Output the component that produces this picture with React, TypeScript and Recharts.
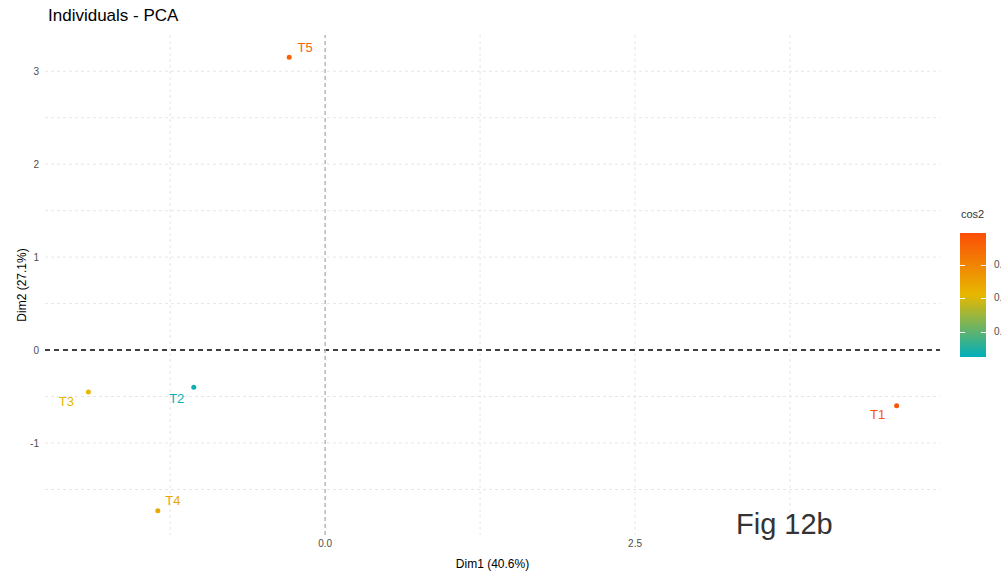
import React from 'react';
import { ScatterChart, Scatter, XAxis, YAxis, CartesianGrid, ReferenceLine } from 'recharts';

const names = ['T1', 'T2', 'T3', 'T4', 'T5'];
const dim1 = [4.61, -1.06, -1.91, -1.35, -0.29];
const dim2 = [-0.6, -0.4, -0.45, -1.73, 3.15];
const cos2 = [0.97, 0.27, 0.62, 0.68, 0.92];

const xTicks = [0, 2.5];
const yTicks = [-1, 0, 1, 2, 3];
const legendTicks = [0.8, 0.6, 0.4];

const COS2_MIN = 0.25;
const COS2_MAX = 0.99;

// label nudges in px (mimics ggrepel placement)
const nudge: Record<string, [number, number]> = {
  T1: [-19, 9],
  T2: [-17, 11],
  T3: [-22, 10],
  T4: [15, -10],
  T5: [16, -10],
};

const data = names.map((n, i) => ({ name: n, x: dim1[i], y: dim2[i], cos2: cos2[i] }));

function hexToRgb(h: string) {
  const v = parseInt(h.slice(1), 16);
  return [(v >> 16) & 255, (v >> 8) & 255, v & 255];
}
function mix(a: string, b: string, t: number) {
  const A = hexToRgb(a);
  const B = hexToRgb(b);
  const c = A.map((v, i) => Math.round(v + (B[i] - v) * t));
  return `rgb(${c[0]},${c[1]},${c[2]})`;
}
function cosColor(v: number) {
  const t = Math.min(1, Math.max(0, (v - COS2_MIN) / (COS2_MAX - COS2_MIN)));
  if (t < 0.5) return mix('#00AFBB', '#E7B800', t / 0.5);
  return mix('#E7B800', '#FC4E07', (t - 0.5) / 0.5);
}

const PointShape = (props: any) => {
  const { cx, cy, payload } = props;
  const col = cosColor(payload.cos2);
  const [dx, dy] = nudge[payload.name] || [12, -8];
  return (
    <g>
      <circle cx={cx} cy={cy} r={2.5} fill={col} />
      <text x={cx + dx} y={cy + dy} fill={col} fontSize={13} textAnchor="middle" dominantBaseline="central">
        {payload.name}
      </text>
    </g>
  );
};

const font = '"Liberation Sans", Arial, sans-serif';

export default function App() {
  const barTop = 233;
  const barBottom = 357;
  const tickY = (v: number) => barBottom - ((v - COS2_MIN) / (COS2_MAX - COS2_MIN)) * (barBottom - barTop);
  return (
    <div style={{ position: 'fixed', left: 0, top: 0, width: 1001, height: 573, background: '#fff', fontFamily: font, overflow: 'hidden' }}>
      <div style={{ position: 'absolute', left: 48, top: 6, fontSize: 17, color: '#000' }}>Individuals - PCA</div>
      <ScatterChart width={1001} height={573} margin={{ top: 35, right: 61, bottom: 0, left: 0 }}>
        <CartesianGrid
          stroke="#e6e6e6"
          strokeDasharray="3 3"
          horizontalValues={[-1.5, -1, -0.5, 0.5, 1, 1.5, 2, 2.5, 3]}
          verticalValues={[-1.25, 1.25, 2.5, 3.75]}
        />
        <XAxis
          type="number"
          dataKey="x"
          domain={[-2.26, 4.96]}
          allowDataOverflow
          ticks={xTicks}
          tickFormatter={(v: number) => v.toFixed(1)}
          axisLine={false}
          tickLine={false}
          tickSize={0}
          tickMargin={5}
          height={38}
          tick={{ fontSize: 10, fill: '#4d4d4d', fontFamily: font }}
          label={{ value: 'Dim1 (40.6%)', position: 'insideBottom', offset: 5, fontSize: 12, fill: '#000', fontFamily: font }}
        />
        <YAxis
          type="number"
          dataKey="y"
          domain={[-1.99, 3.39]}
          allowDataOverflow
          ticks={yTicks}
          axisLine={false}
          tickLine={false}
          tickSize={0}
          tickMargin={6}
          width={45}
          tick={{ fontSize: 10, fill: '#4d4d4d', fontFamily: font }}
          label={{ value: 'Dim2 (27.1%)', angle: -90, position: 'insideLeft', offset: 22, fontSize: 12, fill: '#000', fontFamily: font, style: { textAnchor: 'middle' } }}
        />
        <ReferenceLine y={0} stroke="#000" strokeDasharray="5 4" strokeWidth={1.5} />
        <ReferenceLine x={0} stroke="#b8b8b8" strokeDasharray="4 3" strokeWidth={1.5} />
        <Scatter data={data} shape={PointShape} isAnimationActive={false} />
      </ScatterChart>
      <div style={{ position: 'absolute', left: 961, top: 208, fontSize: 11, color: '#333' }}>cos2</div>
      <div
        style={{
          position: 'absolute',
          left: 960,
          top: barTop,
          width: 26,
          height: barBottom - barTop,
          background: 'linear-gradient(to top, #00AFBB, #E7B800 50%, #FC4E07)',
        }}
      />
      {legendTicks.map((t) => (
        <React.Fragment key={t}>
          <div style={{ position: 'absolute', left: 960, top: tickY(t), width: 5, height: 1, background: '#fff' }} />
          <div style={{ position: 'absolute', left: 981, top: tickY(t), width: 5, height: 1, background: '#fff' }} />
          <div style={{ position: 'absolute', left: 994, top: tickY(t) - 6, fontSize: 10, color: '#4d4d4d' }}>{t.toFixed(1)}</div>
        </React.Fragment>
      ))}
      <div style={{ position: 'absolute', left: 736, top: 508, fontSize: 29, color: '#333' }}>Fig 12b</div>
    </div>
  );
}
